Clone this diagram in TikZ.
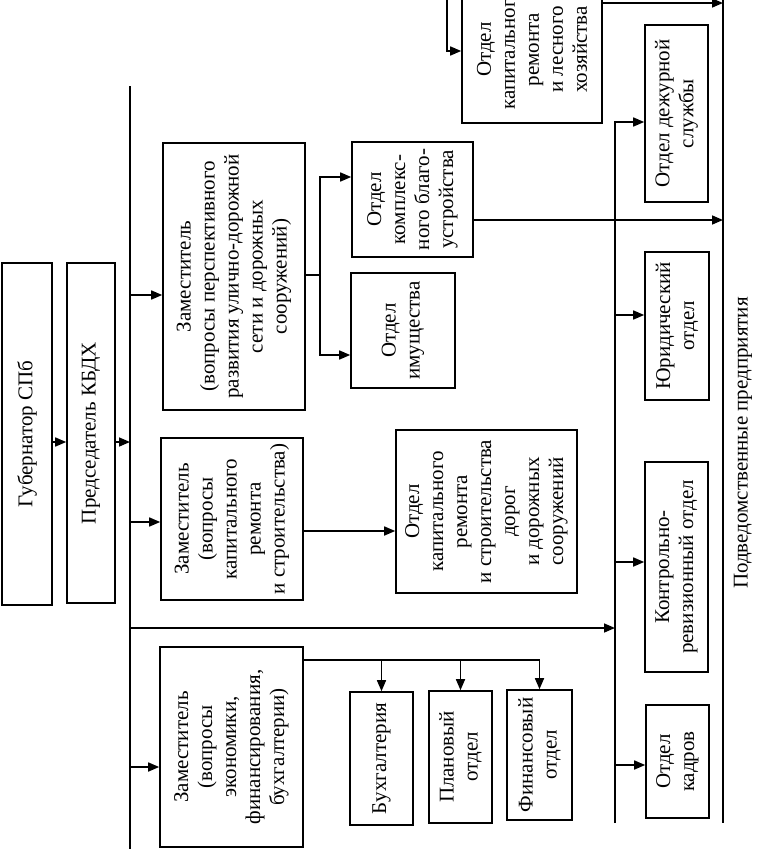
\documentclass[tikz,border=0pt]{standalone}
\usepackage{fontspec}
\setmainfont{Liberation Serif}
\usetikzlibrary{arrows.meta}

\begin{document}
\begin{tikzpicture}[x=1pt, y=-1pt,
  box/.style={draw, line width=1.6pt, rotate=90, align=center, inner sep=1pt, font=\fontsize{21}{24}\selectfont},
  lbl/.style={rotate=90, inner sep=0pt, font=\fontsize{21}{24}\selectfont},
  ln/.style={line width=1.6pt},
  arr/.style={line width=1.6pt, -{Triangle[length=11pt,width=9pt]}}]
\clip (0,0) rectangle (756,849);
\node(gov)[box, minimum width=342pt, minimum height=50pt] at (27,434) {Губернатор СПб};
\node(pred)[box, minimum width=340pt, minimum height=48pt] at (91,433) {Председатель КБДХ};
\node(dep1)[box, minimum width=267pt, minimum height=142pt] at (234,276.5) {Заместитель\\(вопросы перспективного\\развития улично-дорожной\\сети и дорожных\\сооружений)};
\node(dep2)[box, minimum width=162pt, minimum height=142pt] at (232,519) {Заместитель\\(вопросы\\капитального\\ремонта\\и строительства)};
\node(dep3)[box, minimum width=200pt, minimum height=143pt] at (231.5,747) {Заместитель\\(вопросы\\экономики,\\финансирования,\\бухгалтерии)};
\node(otdKB)[box, minimum width=115pt, minimum height=121pt] at (412.5,199.5) {Отдел\\комплекс-\\ного благо-\\устройства};
\node(otdIm)[box, minimum width=115pt, minimum height=104pt] at (403,330.5) {Отдел\\имущества};
\node(otdKRS)[box, minimum width=163pt, minimum height=181pt] at (486.5,511.5) {Отдел\\капитального\\ремонта\\и строительства\\дорог\\и дорожных\\сооружений};
\node(otdKLH)[box, minimum width=147pt, minimum height=140pt] at (532,49.5) {Отдел\\капитального\\ремонта\\и лесного\\хозяйства};
\node(buh)[box, minimum width=133pt, minimum height=63pt] at (381.5,758.5) {Бухгалтерия};
\node(plan)[box, minimum width=132pt, minimum height=63pt] at (460.5,757) {Плановый\\отдел};
\node(fin)[box, minimum width=130pt, minimum height=65pt] at (539.5,755) {Финансовый\\отдел};
\node(dezh)[box, minimum width=177pt, minimum height=63pt] at (676.5,113.5) {Отдел дежурной\\службы};
\node(yur)[box, minimum width=148pt, minimum height=64pt] at (677,326) {Юридический\\отдел};
\node(kr)[box, minimum width=210pt, minimum height=63pt] at (676.5,567) {Контрольно-\\ревизионный отдел};
\node(kadr)[box, minimum width=113pt, minimum height=63pt] at (677.5,761.5) {Отдел\\кадров};
\node(podv)[lbl] at (743,443) {Подведомственные предприятия};

\coordinate(b1t) at (130,86);
\coordinate(b1b) at (130,860);
\coordinate(b2t) at (615,122);
\coordinate(b2b) at (615,823);
\coordinate(b3t) at (723,-10);
\coordinate(b3b) at (723,823);
\coordinate(p0) at (0,442);
\coordinate(p1) at (0,295);
\coordinate(p2) at (0,522);
\coordinate(p3) at (0,767);
\coordinate(f1) at (320,275);
\coordinate(f1a) at (0,177);
\coordinate(f1b) at (0,355);
\coordinate(f2) at (0,531);
\coordinate(f3) at (0,660);
\coordinate(h2) at (0,628);
\coordinate(r0) at (0,3);
\coordinate(r1) at (0,220);
\coordinate(k0) at (447,-10);
\coordinate(k1) at (0,51);
\coordinate(q1) at (0,315);
\coordinate(q2) at (0,562);
\coordinate(q3) at (0,765);

\draw[ln] (b1t) -- (b1b);
\draw[ln] (b3t) -- (b3b);
\draw[arr] (gov.south |- p0) -- (pred.north |- p0);
\draw[arr] (pred.south |- p0) -- (b1t |- p0);
\draw[arr] (b1t |- p1) -- (dep1.north |- p1);
\draw[arr] (b1t |- p2) -- (dep2.north |- p2);
\draw[arr] (b1t |- p3) -- (dep3.north |- p3);
\draw[ln] (dep1.south |- f1) -- (f1);
\draw[arr] (f1) |- (otdKB.north |- f1a);
\draw[arr] (f1) |- (otdIm.north |- f1b);
\draw[arr] (dep2.south |- f2) -- (otdKRS.north |- f2);
\draw[ln] (dep3.south |- f3) -- (fin.east |- f3);
\draw[arr] (buh.east |- f3) -- (buh.east);
\draw[arr] (plan.east |- f3) -- (plan.east);
\draw[arr] (fin.east |- f3) -- (fin.east);
\draw[arr] (b1t |- h2) -- (b2t |- h2);
\draw[arr] (b2b) -- (b2t) -- (dezh.north |- b2t);
\draw[arr] (b2t |- q1) -- (yur.north |- q1);
\draw[arr] (b2t |- q2) -- (kr.north |- q2);
\draw[arr] (b2t |- q3) -- (kadr.north |- q3);
\draw[arr] (otdKB.south |- r1) -- (b3t |- r1);
\draw[arr] (otdKLH.south |- r0) -- (b3t |- r0);
\draw[arr] (k0) |- (otdKLH.north |- k1);
\end{tikzpicture}
\end{document}
